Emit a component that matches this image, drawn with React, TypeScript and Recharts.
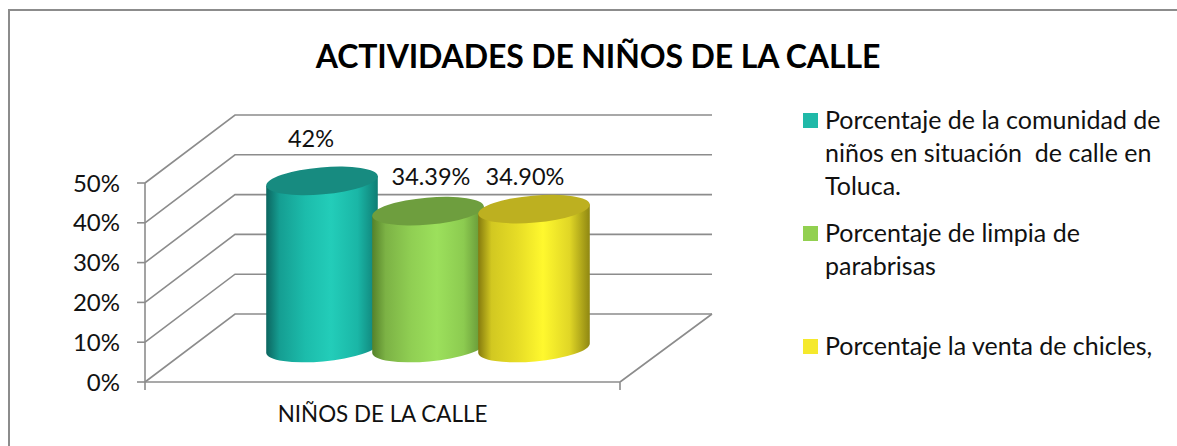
import React from 'react';
import { Bar, BarChart, CartesianGrid, Legend, XAxis, YAxis } from 'recharts';

const categories = ['NIÑOS DE LA CALLE'];
const comunidadValues = [42];
const limpiaValues = [34.39];
const chiclesValues = [34.9];
const valueLabels = ['42%', '34.39%', '34.90%'];
const yTicks = [0, 10, 20, 30, 40, 50];
const seriesNames = [
  'Porcentaje de la comunidad de\nniños en situación  de calle en\nToluca.',
  'Porcentaje de limpia de\nparabrisas',
  'Porcentaje la venta de chicles,',
];

const chartData = categories.map((name, i) => ({
  name,
  comunidad: comunidadValues[i],
  limpia: limpiaValues[i],
  chicles: chiclesValues[i],
}));

const FONT = 'Lato, sans-serif';
const GREY = '#8c8c8c';
// how far the back wall sits from the front axis
const DEPTH_X = 90;
const DEPTH_Y = 68;
const WALL_RIGHT = 712;

const cylinders = [
  {
    key: 'comunidad',
    legend: '#20b9a8',
    top: '#178b80',
    stops: ['#0c6660', '#159e92', '#1cbcab', '#23cdb9', '#1ab6a6', '#0f7d74'],
    labelDx: -11,
    labelDy: -43,
  },
  {
    key: 'limpia',
    legend: '#92d050',
    top: '#6e9e3e',
    stops: ['#55822a', '#7cb245', '#90cf53', '#9ce05c', '#8ccb50', '#618f33'],
    labelDx: 3,
    labelDy: -35,
  },
  {
    key: 'chicles',
    legend: '#f5e92c',
    top: '#bdb020',
    stops: ['#857b0e', '#d2c821', '#e6dc26', '#fff82e', '#e0d626', '#8f8712'],
    labelDx: -9,
    labelDy: -33,
  },
];

const renderWallLine = (props: any) => {
  const { x1, x2, y1, index } = props;
  const isFloor = y1 > 380;
  return (
    <g key={`wall-${index}`} stroke={GREY} strokeWidth={1.6} fill="none">
      <path d={`M${x1},${y1}L${x1 + DEPTH_X},${y1 - DEPTH_Y}L${WALL_RIGHT},${y1 - DEPTH_Y}`} />
      {isFloor && (
        <path
          d={`M${WALL_RIGHT},${y1 - DEPTH_Y}L${x2},${y1}M${x1},${y1}V${y1 + 8}M${x2},${y1}V${y1 + 8}`}
        />
      )}
    </g>
  );
};

const makeCylinder = (cfg: (typeof cylinders)[number]) => (props: any) => {
  const { x, y, width, height } = props;
  const rx = 56;
  const ry = 13.5;
  const tilt = -5;
  const cx = x + width / 2 + DEPTH_X / 2;
  const topY = y - DEPTH_Y / 2;
  const baseY = y + height - DEPTH_Y / 2;
  const ex = rx * Math.cos((tilt * Math.PI) / 180);
  const ey = rx * Math.sin((tilt * Math.PI) / 180);
  const id = `grad-${cfg.key}`;
  const offsets = [0, 0.12, 0.35, 0.58, 0.82, 1];
  return (
    <g>
      <defs>
        <linearGradient id={id} x1="0" y1="0" x2="1" y2="0">
          {cfg.stops.map((c, i) => (
            <stop key={c} offset={offsets[i]} stopColor={c} />
          ))}
        </linearGradient>
      </defs>
      <path
        fill={`url(#${id})`}
        d={`M${cx - ex},${topY - ey}L${cx - ex},${baseY - ey}A${rx},${ry} ${tilt} 0 0 ${cx + ex},${baseY + ey}L${cx + ex},${topY + ey}Z`}
      />
      <ellipse
        cx={cx}
        cy={topY}
        rx={rx}
        ry={ry}
        fill={cfg.top}
        transform={`rotate(${tilt} ${cx} ${topY})`}
      />
    </g>
  );
};

const makeValueLabel = (seriesIndex: number) => (props: any) => {
  const { x, y, width } = props;
  const cfg = cylinders[seriesIndex];
  return (
    <text
      x={x + width / 2 + DEPTH_X / 2 + cfg.labelDx}
      y={y - DEPTH_Y / 2 + cfg.labelDy}
      textAnchor="middle"
      dominantBaseline="central"
      fontFamily={FONT}
      fontSize={23.5}
      fill="#111"
    >
      {valueLabels[seriesIndex]}
    </text>
  );
};

const legendTops = [103, 216, 329];

const LegendBlock = (props: any) => (
  <div style={{ position: 'relative', height: 0, fontFamily: FONT, fontSize: 25, color: '#111' }}>
    {props.payload.map((item: any, i: number) => (
      <div key={item.value} style={{ position: 'absolute', top: legendTops[i], left: 0 }}>
        <span
          style={{
            position: 'absolute',
            left: 0,
            top: 10,
            width: 15,
            height: 15,
            background: item.color,
          }}
        />
        <div style={{ marginLeft: 22, lineHeight: '33px', whiteSpace: 'pre' }}>{item.value}</div>
      </div>
    ))}
  </div>
);

export default function App() {
  return (
    <div style={{ position: 'absolute', left: 0, top: 0, width: 1177, height: 446, background: '#fff' }}>
      <div style={{ position: 'absolute', left: 8, top: 9, width: 1169, height: 2, background: GREY }} />
      <div style={{ position: 'absolute', left: 8, top: 9, width: 2, height: 437, background: GREY }} />
      <div
        style={{
          position: 'absolute',
          left: 0,
          width: 1196,
          top: 36,
          textAlign: 'center',
          fontFamily: FONT,
          fontWeight: 700,
          fontSize: 32,
          letterSpacing: -0.13,
          color: '#000',
        }}
      >
        ACTIVIDADES DE NIÑOS DE LA CALLE
      </div>
      <BarChart
        width={1177}
        height={446}
        data={chartData}
        margin={{ top: 183, right: 557, bottom: 0, left: 0 }}
        barSize={106}
        barGap={0}
        style={{ position: 'absolute', left: 0, top: 0 }}
      >
        <CartesianGrid vertical={false} horizontal={renderWallLine} />
        <XAxis
          dataKey="name"
          height={64}
          interval={0}
          width={475}
          tickLine={false}
          axisLine={{ stroke: GREY, strokeWidth: 1.6 }}
          tick={{ fontFamily: FONT, fontSize: 22.4, fill: '#111' }}
          tickMargin={18}
        />
        <YAxis
          width={145}
          domain={[0, 50]}
          ticks={yTicks}
          interval={0}
          tickFormatter={(v: number) => `${v}%`}
          tickSize={8}
          tickMargin={17}
          tickLine={{ stroke: GREY, strokeWidth: 1.6 }}
          axisLine={{ stroke: GREY, strokeWidth: 1.6 }}
          tick={{ fontFamily: FONT, fontSize: 24, fill: '#111' }}
        />
        <Legend
          content={<LegendBlock />}
          layout="horizontal"
          verticalAlign="top"
          align="left"
          height={0}
          wrapperStyle={{ left: 803, top: 0, width: 370, height: 0 }}
        />
        {cylinders.map((cfg, i) => (
          <Bar
            key={cfg.key}
            dataKey={cfg.key}
            name={seriesNames[i]}
            fill={cfg.legend}
            shape={makeCylinder(cfg)}
            label={makeValueLabel(i)}
            isAnimationActive={false}
          />
        ))}
      </BarChart>
    </div>
  );
}
